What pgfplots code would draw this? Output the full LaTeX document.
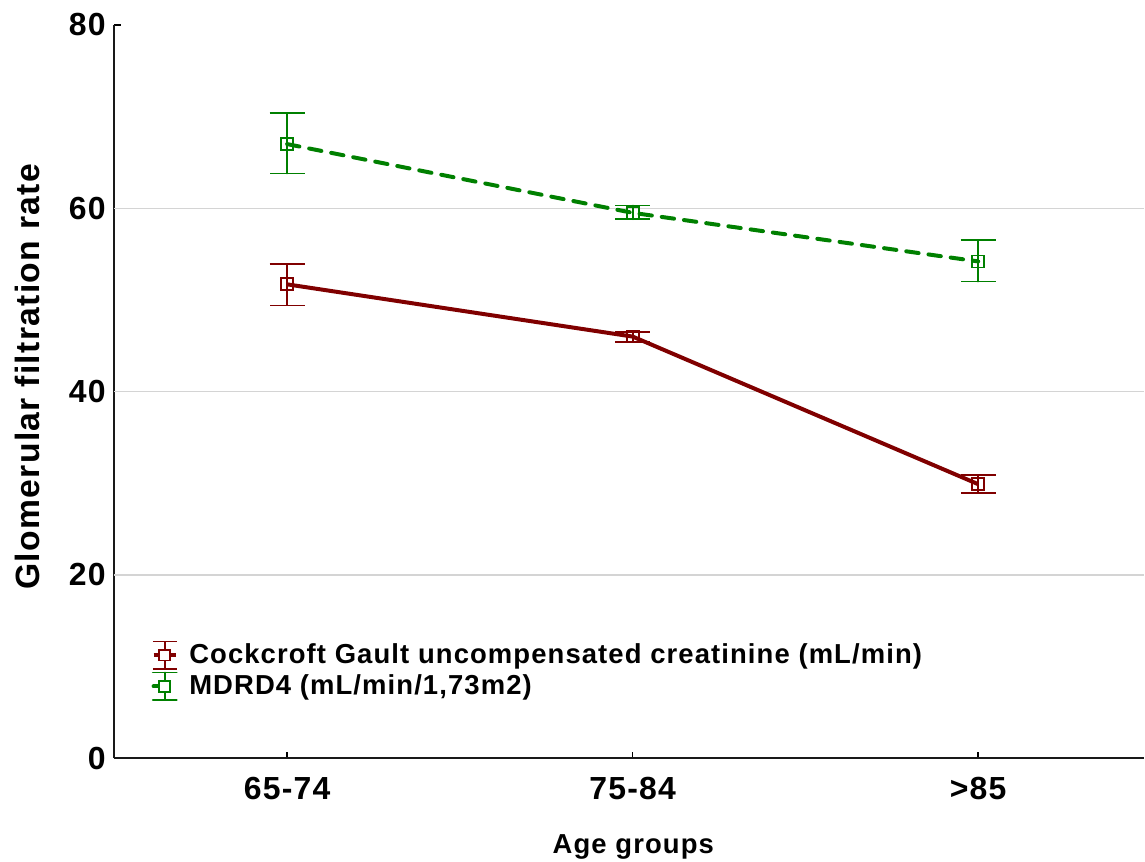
\documentclass[border=0pt]{standalone}
\usepackage{pgfplots}
\pgfplotsset{compat=1.18}
\usepackage{pgfplotstable}
\usepackage{fontspec}
\setmainfont{Liberation Sans}[LetterSpace=4]
\definecolor{cgred}{RGB}{128,0,0}
\definecolor{mdgreen}{RGB}{0,128,0}
\pgfplotstableread{
x y ep em
0 51.7 2.2 2.3
1 46.0 0.5 0.55
2 29.9 1.0 1.0
}\redtab
\pgfplotstableread{
x y ep em
0 67.0 3.4 3.2
1 59.5 0.8 0.7
2 54.2 2.3 2.2
}\greentab
\begin{document}
\begin{tikzpicture}
\begin{axis}[
  scale only axis,
  width=412.8pt, height=294pt,
  xmin=-0.5, xmax=2.48,
  ymin=0, ymax=80,
  axis lines=left,
  axis line style={-, line width=0.8pt, black!90},
  tick align=inside,
  major tick length=2.5pt,
  tick style={line width=0.6pt, black},
  xtick={0,1,2},
  xticklabels={65-74,75-84,{>85}},
  ytick={0,20,40,60,80},
  extra y ticks={20,40,60},
  extra y tick labels={},
  extra y tick style={ymajorgrids=true, major tick length=0pt},
  grid style={line width=0.5pt, black!17},
  /pgf/number format/assume math mode=true,
  ticklabel style={font=\fontsize{12.8}{14}\selectfont\bfseries},
  xticklabel style={yshift=-4pt},
  xlabel={Age groups},
  ylabel={Glomerular filtration rate},
  every axis x label/.style={at={(axis description cs:0.504,-0.1204)}, anchor=center,
    inner ysep=1.2pt, font=\fontsize{11}{13}\selectfont\bfseries},
  every axis y label/.style={at={(axis description cs:-0.0843,0.52)}, anchor=center, rotate=90,
    inner ysep=6.1pt, font=\fontsize{13.5}{15}\selectfont\bfseries},
  legend style={draw=none, fill=none, at={(axis description cs:0.0284,0.171)}, anchor=north west,
    font=\fontsize{11}{13}\selectfont\bfseries, row sep=-1pt},
  legend cell align=left,
  legend image code/.code={
    \draw[#1, line width=1.6pt] (-0.45em,0pt) -- (0.45em,0pt);
    \draw[#1, solid, line width=0.7pt] (0pt,-5.5pt) -- (0pt,5.5pt);
    \draw[#1, solid, line width=0.7pt] (-4.8pt,-5.5pt) -- (4.8pt,-5.5pt);
    \draw[#1, solid, line width=0.7pt] (-4.8pt,5.5pt) -- (4.8pt,5.5pt);
    \draw[#1, solid, line width=0.7pt, fill=white] (-2.2pt,-2.2pt) rectangle (2.2pt,2.2pt);
    \path (7pt,0pt);
  },
  clip=false,
]
\addplot+[cgred, solid, line width=1.6pt, mark=square, mark size=2.4pt,
  mark options={solid, line width=0.7pt, fill=none},
  error bars/.cd, y dir=both, y explicit,
  error bar style={line width=0.7pt, solid, cgred},
  error mark options={rotate=90, mark size=7pt, line width=0.7pt, cgred}]
  table[x=x, y=y, y error plus=ep, y error minus=em] {\redtab};
\addlegendentry{Cockcroft Gault uncompensated creatinine (mL/min)}
\addplot+[mdgreen, dash pattern=on 5pt off 4pt, line cap=round, line width=1.6pt, mark=square, mark size=2.4pt,
  mark options={solid, line width=0.7pt, fill=none},
  error bars/.cd, y dir=both, y explicit,
  error bar style={line width=0.7pt, solid, mdgreen},
  error mark options={rotate=90, mark size=7pt, line width=0.7pt, mdgreen}]
  table[x=x, y=y, y error plus=ep, y error minus=em] {\greentab};
\addlegendentry{MDRD4 (mL/min/1,73m2)}
\end{axis}
\path ([yshift=10pt]current axis.north west);
\end{tikzpicture}
\end{document}
